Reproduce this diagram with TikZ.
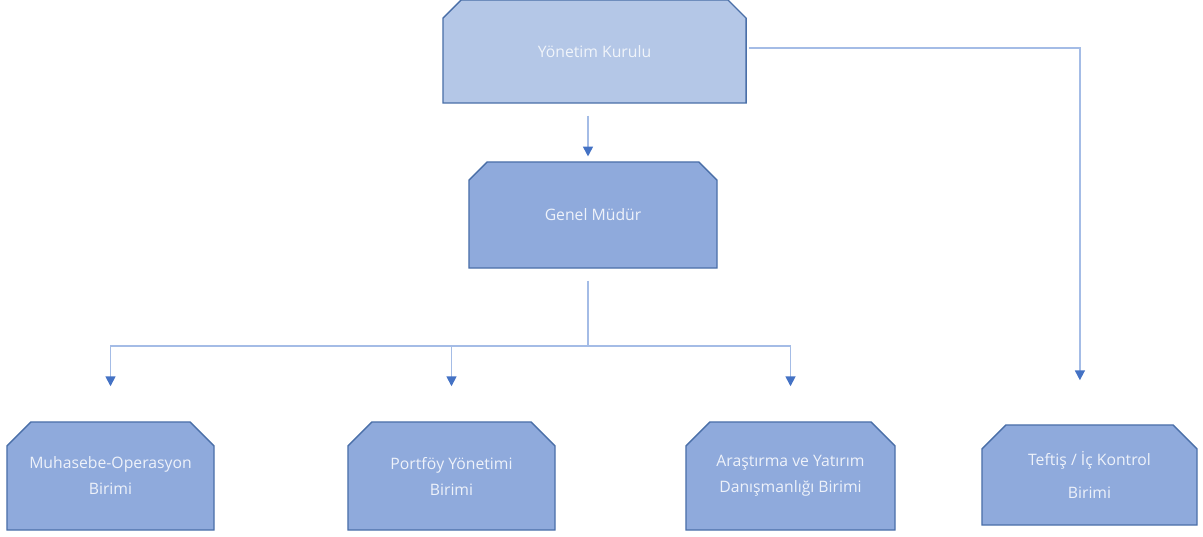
\documentclass[tikz,border=0pt]{standalone}
\usepackage{fontspec}
\setmainfont{Open Sans}
\usepackage{tikz}
\usetikzlibrary{arrows.meta, shapes.misc}

\definecolor{boxlight}{HTML}{B4C7E7}
\definecolor{boxfill}{HTML}{8FAADC}
\definecolor{boxline}{HTML}{4A6FA8}
\definecolor{linkline}{HTML}{A4BCE6}
\definecolor{tipblue}{HTML}{4472C4}

\tikzset{
  unit/.style={chamfered rectangle, chamfered rectangle corners={north west,north east},
    chamfered rectangle xsep=0.3cm, chamfered rectangle ysep=0.3cm,
    draw=boxline, line width=1pt, fill=boxfill, inner sep=0pt,
    text=white!85!boxfill, align=center, font=\fontsize{11.2}{18.5}\selectfont},
  link/.style={draw=linkline, line width=1.2pt, -{Triangle[length=7pt,width=7pt,color=tipblue]}},
  trunk/.style={draw=linkline, line width=1.2pt}
}

\begin{document}
\begin{tikzpicture}[x=0.025cm, y=-0.025cm]
\useasboundingbox (0,0) rectangle (1203,537);
%\tikzstyle{unit}=[chamfered rectangle,draw,fill=blue!30]
\begin{scope}[every node/.append style={unit}]
    \node[fill=boxlight, text=white!80!boxlight, minimum width=7.575cm, minimum height=2.575cm] (yk) at (594.5,51.5) {Yönetim Kurulu};
    \node[minimum width=6.2cm, minimum height=2.65cm] (gm) at (593,215) {Genel Müdür};
    \node[minimum width=5.175cm, minimum height=2.7cm] (muh) at (110.5,476) {Muhasebe-Operasyon\\Birimi};
    \node[minimum width=5.175cm, minimum height=2.7cm] (port) at (451.5,476) {Portföy Yönetimi\\Birimi};
    \node[minimum width=5.225cm, minimum height=2.7cm] (arst) at (790.5,476) {Araştırma ve Yatırım\\Danışmanlığı Birimi};
    \node[minimum width=5.375cm, minimum height=2.5cm, font=\fontsize{11.2}{24}\selectfont] (teftis) at (1089.5,475) {Teftiş / İç Kontrol\\Birimi};
\end{scope}

    \coordinate (gmtop) at ([xshift=-0.125cm]gm.north);
    \coordinate (gmbot) at ([xshift=-0.125cm]gm.south);
    \coordinate (split) at ([yshift=-1.925cm]gmbot);
    \coordinate (tftop) at ([xshift=-0.24cm]teftis.north);

    \draw [link, shorten <=0.3cm, shorten >=0.12cm] (yk.south -| gmtop) -- (gmtop);
    \draw [trunk, shorten <=0.3cm] (gmbot) -- (split);
    \draw [link, shorten >=0.875cm] (split) -| (muh.north);
    \draw [link, shorten >=0.875cm] (split) -| (port.north);
    \draw [link, shorten >=0.875cm] (split) -| (arst.north);
    \draw [link, shorten >=1.1cm] ([yshift=0.09cm,xshift=0.05cm]yk.east) -| (tftop);
\end{tikzpicture}
\end{document}
